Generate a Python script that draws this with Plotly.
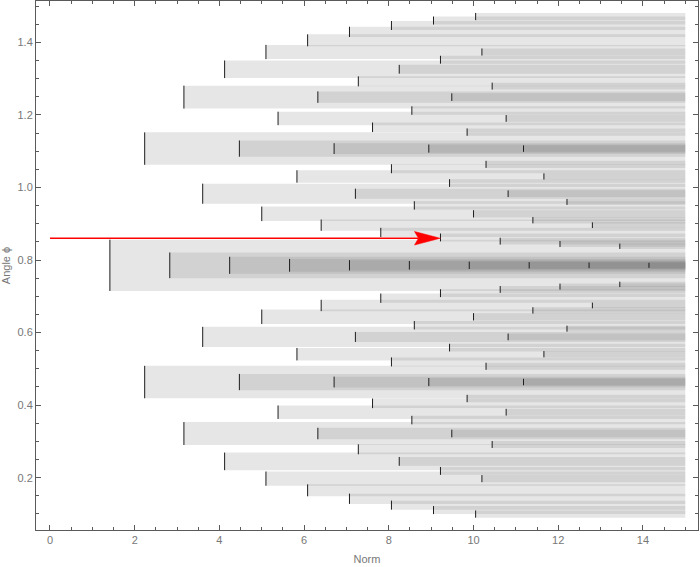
import math
import plotly.graph_objects as go

# ---- data ----
lattice_a = [1, 2, 3, 4, 5, 6, 7, 8, 9, 10]   # x components of lattice vectors
lattice_b = [1, 2, 3, 4, 5, 6, 7, 8, 9, 10]   # y components of lattice vectors
norm_max = 15.0                                # bars run out to this norm
bar_scale = 0.1                                # half bar height = bar_scale / norm
arrow_angle = 0.86                             # ray angle
arrow_length = math.sqrt(85)                   # ray hits lattice point (6, 7)

x_ticks = [0, 2, 4, 6, 8, 10, 12, 14]
y_ticks = [0.2, 0.4, 0.6, 0.8, 1.0, 1.2, 1.4]

# ---- layout constants ----
W, H = 700, 567
ML, MR, MT, MB = 36, 2, 1, 37
x_range = [-0.33, 15.30]
y_range = [0.0558, 1.514]
px_per_x = (W - ML - MR) / (x_range[1] - x_range[0])
px_per_y = (H - MT - MB) / (y_range[1] - y_range[0])

frame_color = "#5a5a5a"
label_color = "#777777"
font_family = "Liberation Sans, Arial, sans-serif"

points = []
for a in lattice_a:
    for b in lattice_b:
        n = math.hypot(a, b)
        phi = math.atan2(b, a)
        points.append((n, phi))

shapes = []
for n, phi in points:
    h = bar_scale / n
    shapes.append(dict(
        type="rect", xref="x", yref="y",
        x0=n, x1=norm_max, y0=phi - h, y1=phi + h,
        fillcolor="rgba(128,128,128,0.2)", line=dict(width=0),
        layer="below",
    ))

tick_x, tick_y = [], []
for n, phi in points:
    h = bar_scale / n
    tick_x += [n, n, None]
    tick_y += [phi - h, phi + h, None]

fig = go.Figure()
fig.add_trace(go.Scatter(
    x=tick_x, y=tick_y, mode="lines",
    line=dict(color="#1e1e1e", width=1), hoverinfo="skip", showlegend=False,
))

# arrow shaft
head_len = 26 / px_per_x
head_half = 6.8 / px_per_y
notch = 4 / px_per_x
fig.add_trace(go.Scatter(
    x=[0, arrow_length - head_len + notch], y=[arrow_angle, arrow_angle],
    mode="lines", line=dict(color="#ff0000", width=1.4),
    hoverinfo="skip", showlegend=False,
))
# arrow head
fig.add_trace(go.Scatter(
    x=[arrow_length, arrow_length - head_len, arrow_length - head_len + notch,
       arrow_length - head_len, arrow_length],
    y=[arrow_angle, arrow_angle + head_half, arrow_angle,
       arrow_angle - head_half, arrow_angle],
    mode="lines", fill="toself", fillcolor="#ff0000",
    line=dict(color="#ff0000", width=0.5),
    hoverinfo="skip", showlegend=False,
))

axis_common = dict(
    showline=True, linecolor=frame_color, linewidth=1, mirror="ticks",
    ticks="inside", ticklen=5, tickwidth=1, tickcolor=frame_color,
    showgrid=False, zeroline=False,
    tickfont=dict(family=font_family, size=11, color=label_color),
)

fig.update_layout(
    width=W, height=H,
    margin=dict(l=ML, r=MR, t=MT, b=MB),
    plot_bgcolor="white", paper_bgcolor="white",
    shapes=shapes,
    xaxis=dict(
        range=x_range, tickvals=x_ticks,
        ticktext=[str(v) for v in x_ticks],
        minor=dict(dtick=0.5, tick0=0, ticks="inside", ticklen=3,
                   tickcolor=frame_color, showgrid=False),
        title=dict(text="Norm", standoff=10,
                   font=dict(family=font_family, size=11, color=label_color)),
        **axis_common,
    ),
    yaxis=dict(
        range=y_range, tickvals=y_ticks,
        ticktext=[f"{v:.1f}" for v in y_ticks],
        minor=dict(dtick=0.05, tick0=0, ticks="inside", ticklen=3,
                   tickcolor=frame_color, showgrid=False),
        title=dict(text="Angle ϕ", standoff=4,
                   font=dict(family=font_family, size=11, color=label_color)),
        **axis_common,
    ),
)

fig.write_html("out.html",
               config={"displayModeBar": False},
               post_script="document.body.style.margin='0px';"
                           "document.body.style.overflow='hidden';")
